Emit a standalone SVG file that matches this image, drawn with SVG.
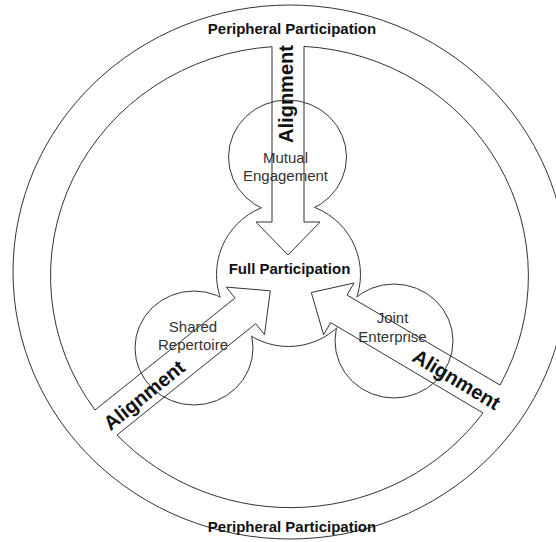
<svg xmlns="http://www.w3.org/2000/svg" width="556" height="542" viewBox="0 0 556 542">
<style>
.ln{fill:none;stroke:#333;stroke-width:1}
.b{font-family:"Liberation Sans",Arial,sans-serif;font-weight:bold;fill:#111;text-anchor:middle}
.r{font-family:"Liberation Sans",Arial,sans-serif;fill:#333;text-anchor:middle;font-size:15px}
</style>
<defs>
<mask id="mk-center" maskUnits="userSpaceOnUse" x="0" y="0" width="556" height="542">
<rect width="556" height="542" fill="#fff"/>
<ellipse cx="287.5" cy="157" rx="59" ry="57" fill="#000"/>
<ellipse cx="194" cy="348" rx="59" ry="57" fill="#000"/>
<ellipse cx="394" cy="341" rx="59" ry="57" fill="#000"/>
</mask>
<mask id="mk-sat" maskUnits="userSpaceOnUse" x="0" y="0" width="556" height="542">
<rect width="556" height="542" fill="#fff"/>
<circle cx="288.5" cy="274.5" r="72" fill="#000"/>
</mask>
</defs>
<rect width="556" height="542" fill="#fff"/>
<g id="peripheral">
<ellipse class="ln" cx="290" cy="272" rx="277" ry="267"/>
<path class="ln" d="M304,46.4 A238,230 0 0,1 500,385"/>
<path class="ln" d="M483,413 A238,230 0 0,1 117,435"/>
<path class="ln" d="M95,410 A238,230 0 0,1 272,46.7"/>
<text class="b" x="292" y="34" font-size="15">Peripheral Participation</text>
<text class="b" x="292" y="532" font-size="15">Peripheral Participation</text>
</g>
<g id="full-participation">
<circle class="ln" cx="288.5" cy="274.5" r="72" mask="url(#mk-center)"/>
<text class="b" x="289.5" y="274" font-size="15">Full Participation</text>
</g>
<g id="mutual-engagement">
<ellipse class="ln" cx="287.5" cy="157" rx="59" ry="57" mask="url(#mk-sat)"/>
<text class="r" x="285.5" y="163">Mutual</text>
<text class="r" x="285.5" y="181">Engagement</text>
</g>
<g id="shared-repertoire">
<ellipse class="ln" cx="194" cy="348" rx="59" ry="57" mask="url(#mk-sat)"/>
<text class="r" x="193" y="332">Shared</text>
<text class="r" x="193" y="350">Repertoire</text>
</g>
<g id="joint-enterprise">
<ellipse class="ln" cx="394" cy="341" rx="59" ry="57" mask="url(#mk-sat)"/>
<text class="r" x="392.5" y="323">Joint</text>
<text class="r" x="392.5" y="342">Enterprise</text>
</g>
<g id="connectors">
<path class="ln" d="M272,46.7 L272,222 L256,222 L288,255 L320,222 L304,222 L304,46.4"/>
<path class="ln" d="M95,410 L235,298 L226.2,287.1 L270.3,290.8 L264.5,334.6 L255.7,323.7 L117,435"/>
<path class="ln" d="M500,385 L347,295 L354.1,283 L311.3,292.5 L323.6,334.7 L330.7,322.6 L483,413"/>
<text class="b" font-size="20" transform="translate(293,94) rotate(-90)">Alignment</text>
<text class="b" font-size="20" transform="translate(148.5,400.5) rotate(-39)">Alignment</text>
<text class="b" font-size="20" transform="translate(453,385.5) rotate(31)">Alignment</text>
</g>
</svg>
